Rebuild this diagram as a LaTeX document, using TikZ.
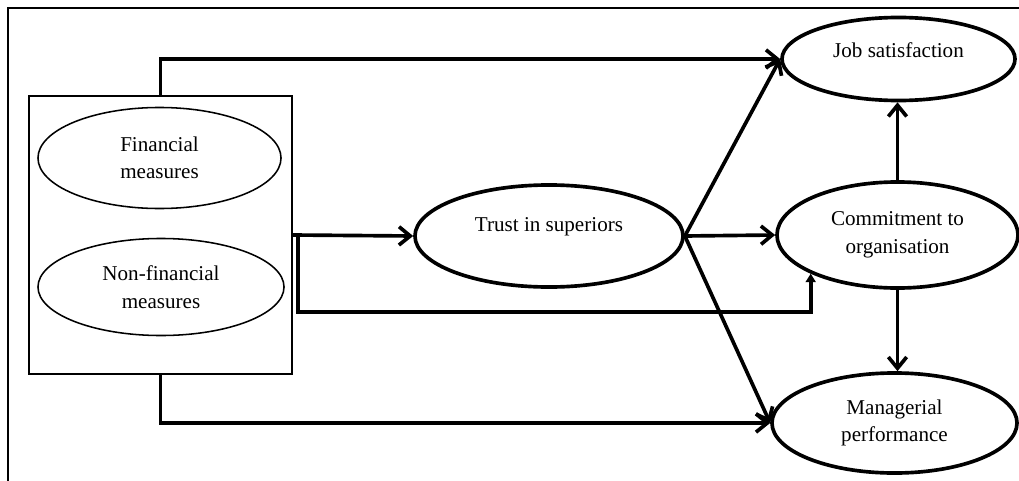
\documentclass[tikz,border=0pt]{standalone}
\usepackage{fontspec}
\setmainfont{Liberation Serif}
\usetikzlibrary{shapes.geometric,arrows.meta}

\begin{document}
\begin{tikzpicture}[x=0.025cm,y=-0.025cm]
    \tikzset{%
      latent/.style={ellipse, draw, line width=2.6pt, inner sep=0pt,
        align=center, font=\fontsize{15}{19.5}\selectfont},
      measure/.style={ellipse, draw, line width=1.1pt, inner sep=0pt,
        align=center, font=\fontsize{15}{19.5}\selectfont},
      block/.style={draw, line width=1.1pt, inner sep=0pt},
      link/.style={line width=2.6pt, -{Straight Barb[length=8pt,width=13pt]}},
      feed/.style={line width=2.6pt, -{Triangle[length=6pt,width=7pt]}},
    }
    \useasboundingbox (0,0) rectangle (1019,480);
    \clip (0,0) rectangle (1019,480);
    \draw[line width=1.1pt] (8,8) rectangle (1040,500);

    % performance measures
    \node[block, minimum width=6.575cm, minimum height=6.95cm] (box) at (160.5,235) {};
    \node[measure, minimum width=6.075cm, minimum height=2.525cm] (fin) at (159.5,158) {Financial\\measures};
    \node[measure, minimum width=6.15cm, minimum height=2.425cm] (nonfin) at (161,287) {Non-financial\\measures};

    % outcomes
    \node[latent, text depth=17pt, minimum width=6.7cm, minimum height=2.55cm] (trust) at (549,236) {Trust in superiors};
    \node[latent, text depth=13pt, minimum width=5.825cm, minimum height=2.075cm] (job) at (898.5,59) {Job satisfaction};
    \node[latent, minimum width=6.025cm, minimum height=2.65cm] (comm) at (897.5,235) {Commitment to\\organisation};
    \node[latent, minimum width=6.125cm, minimum height=2.5cm] (mgr) at (894.5,423) {Managerial\\performance};

    \draw[link] (box.north) |- (job.west);
    \draw[link] (box.south) |- (mgr.west);
    \draw[link] (box.east) -- (trust.west);
    \draw[feed] ([xshift=0.125cm]box.east) |- (comm.204 |- 0,312) -- (comm.204);

    \draw[link] (trust.east) -- (job.west);
    \draw[link] (trust.east) -- (comm.west);
    \draw[link] (trust.east) -- (mgr.west);
    \draw[link] (comm.north) -- (comm.north |- job.south);
    \draw[link] (comm.south) -- (comm.south |- mgr.north);
  \end{tikzpicture}
\end{document}
